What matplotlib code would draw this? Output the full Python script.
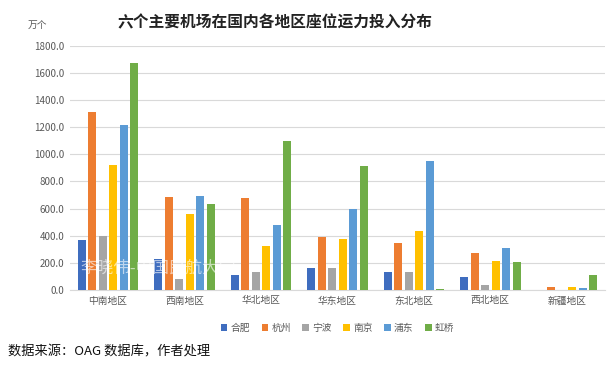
import numpy as np
import matplotlib.pyplot as plt

plt.rcParams['font.family'] = ['Noto Sans CJK SC', 'DejaVu Sans']

regions = ['中南地区', '西南地区', '华北地区', '华东地区', '东北地区', '西北地区', '新疆地区']
airports = ['合肥', '杭州', '宁波', '南京', '浦东', '虹桥']
colors = ['#3F6DBF', '#ED7D31', '#A5A5A5', '#FFC000', '#5B9BD5', '#70AD47']

hefei = [370, 230, 110, 165, 130, 95, 0]
hangzhou = [1315, 685, 680, 390, 345, 270, 20]
ningbo = [395, 80, 130, 165, 130, 35, 0]
nanjing = [925, 560, 325, 375, 435, 210, 25]
pudong = [1220, 690, 480, 595, 950, 310, 15]
hongqiao = [1675, 635, 1100, 915, 10, 205, 110]
series = [hefei, hangzhou, ningbo, nanjing, pudong, hongqiao]

fig = plt.figure(figsize=(6.13, 3.67), dpi=100)
ax = fig.add_axes([0.114, 0.21, 0.873, 0.665])

x = np.arange(len(regions))
step = 0.138
w = 0.105
for i, (name, vals) in enumerate(zip(airports, series)):
    ax.bar(x + (i - 2.5) * step, vals, w, color=colors[i], label=name, zorder=3)

ax.set_ylim(0, 1800)
ax.set_yticks(np.arange(0, 1801, 200))
ax.set_yticklabels([f'{v:.1f}' for v in np.arange(0, 1801, 200)])
ax.set_xlim(-0.5, len(regions) - 0.5)
ax.set_xticks(x)
ax.set_xticklabels(regions)
ax.tick_params(axis='both', length=0, labelsize=7, labelcolor='#595959', pad=4)
ax.grid(axis='y', color='#D9D9D9', linewidth=0.8, zorder=0)
for s in ['top', 'right', 'left']:
    ax.spines[s].set_visible(False)
ax.spines['bottom'].set_color('#D9D9D9')

# 水印
ax.text(0.02, 0.07, '李晓伟-中国民航大学', transform=ax.transAxes, fontsize=12,
        color='white', alpha=0.6, zorder=5)

fig.text(0.449, 0.94, '六个主要机场在国内各地区座位运力投入分布', ha='center', va='center',
         fontsize=11.3, fontweight='bold', color='#222222')
fig.text(0.045, 0.93, '万个', fontsize=7, color='#595959', va='center')

ax.legend(loc='upper center', bbox_to_anchor=(0.5, -0.1), ncol=6, frameon=False,
          fontsize=7, handlelength=0.7, handleheight=0.7, handletextpad=0.3,
          columnspacing=1.2, labelcolor='#595959')

fig.text(0.013, 0.04, '数据来源：OAG 数据库，作者处理', fontsize=9.5, color='#111111', va='center')

fig.savefig('out.png', dpi=100)
